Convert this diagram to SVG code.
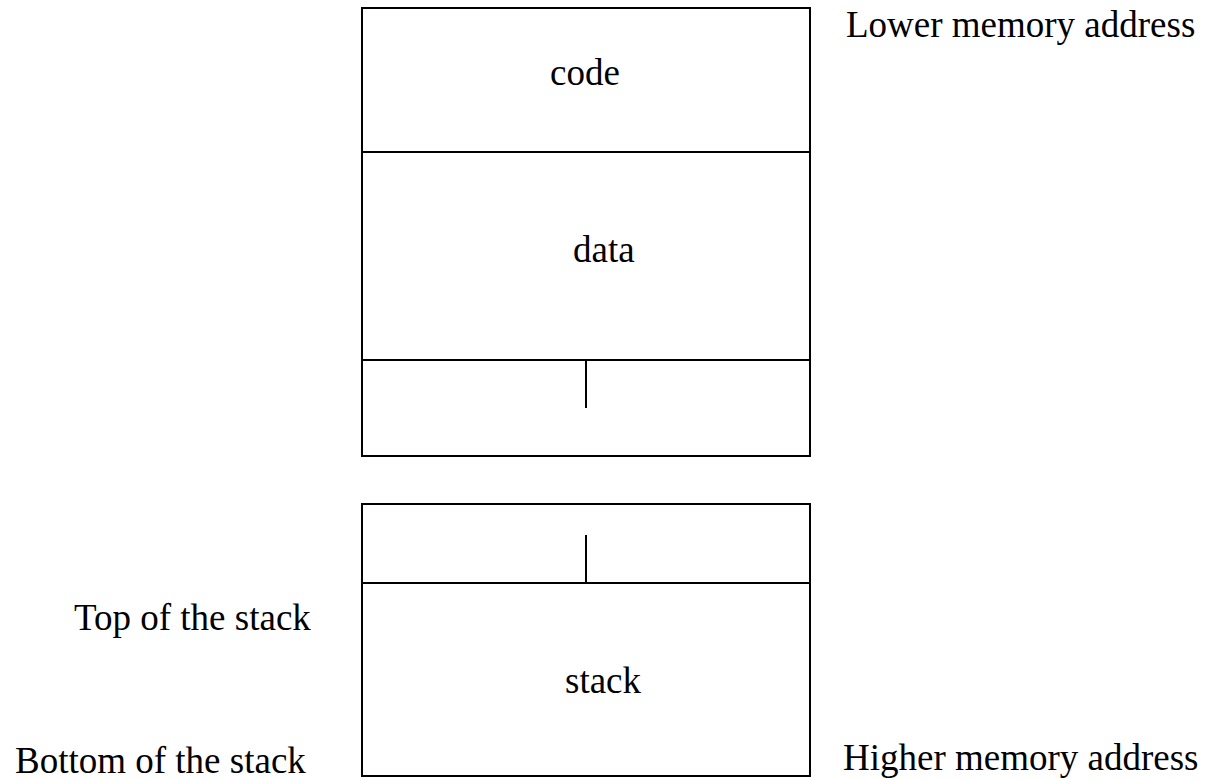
<svg xmlns="http://www.w3.org/2000/svg" width="1205" height="780" viewBox="0 0 1205 780">
<style>
.box{fill:none;stroke:#000;stroke-width:2}
.ln{stroke:#000;stroke-width:2;fill:none}
text{font-family:"Liberation Serif","Times New Roman",serif;font-size:37px;fill:#000}
</style>
<rect width="1205" height="780" fill="#fff"/>
<g id="memory-top">
<rect class="box" x="362" y="8" width="448" height="448"/>
<line class="ln" x1="362" y1="152" x2="810" y2="152"/>
<line class="ln" x1="362" y1="360" x2="810" y2="360"/>
</g>
<g id="code"><text x="550" y="85">code</text></g>
<g id="data"><text x="573" y="262">data</text></g>
<g id="heap"><line class="ln" x1="586" y1="360" x2="586" y2="408"/></g>
<g id="memory-bottom">
<rect class="box" x="362" y="504" width="448" height="272"/>
<line class="ln" x1="362" y1="583" x2="810" y2="583"/>
<line class="ln" x1="586" y1="535" x2="586" y2="583"/>
</g>
<g id="stack"><text x="565" y="693">stack</text></g>
<g id="labels">
<text x="846" y="37">Lower memory address</text>
<text x="74" y="630">Top of the stack</text>
<text x="15" y="773">Bottom of the stack</text>
<text x="843" y="770">Higher memory address</text>
</g>
<g id="connectors"/>
</svg>
